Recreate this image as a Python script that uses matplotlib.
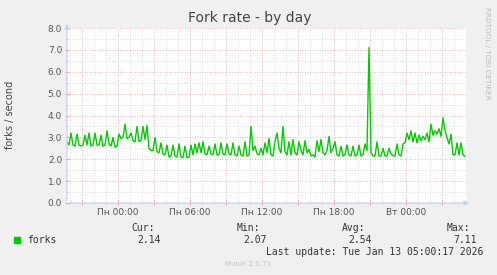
import numpy as np
import pandas as pd
import matplotlib
matplotlib.use("Agg")
import matplotlib.pyplot as plt
import matplotlib.dates as mdates
from matplotlib.ticker import MultipleLocator, FuncFormatter

# forks per second, one sample every 10 minutes
forks = [
    2.8, 2.65, 3.2, 2.65, 2.6, 3.15, 2.65, 2.6, 2.65, 3.1, 2.65, 3.2, 2.6, 2.65, 3.2, 2.65,
    2.65, 3.1, 2.6, 2.65, 3.3, 2.7, 2.6, 3.0, 2.55, 2.6, 3.15, 2.95, 3.0, 3.6, 2.95, 3.0,
    3.2, 2.85, 2.8, 3.5, 2.8, 2.85, 3.5, 2.9, 3.55, 2.5, 2.4, 2.4, 3.0, 2.35, 2.3, 2.75,
    2.25, 2.2, 2.65, 2.1,
    2.15, 2.65, 2.15, 2.1, 2.7, 2.1, 2.07, 2.6, 2.07, 2.1, 2.65, 2.2, 2.7, 2.3, 2.75, 2.3,
    2.8, 2.25, 2.2, 2.6, 2.25, 2.2, 2.7, 2.2, 2.2, 2.75, 2.25, 2.2, 2.7, 2.25, 2.2, 2.75,
    2.2, 2.15, 2.6, 2.2, 2.15, 2.8, 2.15, 2.2, 3.5, 2.4, 2.6, 2.25, 2.2, 2.5, 2.2, 2.75,
    2.3, 2.95,
    2.2, 2.15, 2.8, 3.2, 2.5, 2.3, 3.5, 2.35, 2.2, 2.8, 2.2, 2.9, 2.3, 2.2, 2.8, 2.4,
    2.2, 2.85, 2.3, 2.45, 2.15, 2.2, 2.1, 2.85, 2.35, 2.9, 2.3, 2.2, 2.4, 3.05, 2.3, 2.5,
    2.8, 2.2, 2.15, 2.6, 2.15, 2.2, 2.65, 2.2, 2.15, 2.6, 2.15, 2.2, 2.65, 2.15, 2.2, 2.7,
    2.4, 7.11,
    2.3, 2.15, 2.15, 2.8, 2.15, 2.15, 2.5, 2.15, 2.15, 2.5, 2.25, 2.15, 2.15, 2.7, 2.2, 2.15,
    2.7, 2.75, 3.2, 2.9, 3.3, 2.8, 3.2, 2.75, 3.1, 2.85, 3.05, 2.9, 3.2, 2.8, 3.6, 3.1,
    3.3, 3.15, 3.4, 3.05, 3.9, 3.3, 3.0, 2.7, 3.15, 2.2, 2.2, 2.75, 2.2, 2.75, 2.2, 2.14,
]
times = pd.date_range("2026-01-11 19:45", periods=len(forks), freq="10min")

stat_names = ["Cur:", "Min:", "Avg:", "Max:"]
stat_values = ["2.14", "2.07", "2.54", "7.11"]
day_names = ["Пн", "Вт", "Ср", "Чт", "Пт", "Сб", "Вс"]

bg = "#f0f0f0"
fig = plt.figure(figsize=(4.97, 2.75), dpi=100, facecolor=bg)
W, H = 497.0, 275.0
ax = fig.add_axes([67 / W, 72 / H, 400 / W, 175 / H])
ax.set_facecolor("white")

ax.plot(times, forks, color="#00cc00", lw=1.0, zorder=3)

x0 = pd.Timestamp("2026-01-11 19:45")
x1 = pd.Timestamp("2026-01-13 05:05")
ax.set_xlim(x0, x1)
ax.set_ylim(0, 8)

ax.xaxis.set_major_locator(mdates.HourLocator(byhour=range(0, 24, 3)))
ax.xaxis.set_minor_locator(mdates.HourLocator())

def fmt_time(v, pos):
    d = mdates.num2date(v)
    if d.hour % 6 != 0:
        return ""
    return "%s %02d:%02d" % (day_names[d.weekday()], d.hour, d.minute)

ax.xaxis.set_major_formatter(FuncFormatter(fmt_time))
ax.yaxis.set_major_locator(MultipleLocator(1.0))
ax.yaxis.set_minor_locator(MultipleLocator(0.5))
ax.yaxis.set_major_formatter(FuncFormatter(lambda v, p: "%.1f" % v))

ax.grid(which="minor", color="#d4d4d4", lw=0.6, ls=(0, (1, 2)))
ax.grid(which="major", color="#e6a0a0", lw=0.6, ls=(0, (1, 2)))
ax.set_axisbelow(True)

ax.tick_params(which="both", direction="inout", colors="#555555", labelsize=6.5, pad=2)
ax.tick_params(which="major", length=3, color="#e6a0a0")
ax.tick_params(which="minor", length=2, color="#c8c8c8")
for s in ax.spines.values():
    s.set_visible(False)

axis_col = "#c8d0f4"
ax.annotate("", xy=(0, 1.04), xytext=(0, 0), xycoords="axes fraction",
            arrowprops=dict(arrowstyle="-|>", color=axis_col, lw=0.9, mutation_scale=7))
ax.annotate("", xy=(1.0125, 0), xytext=(0, 0), xycoords="axes fraction",
            arrowprops=dict(arrowstyle="-|>", color=axis_col, lw=0.9, mutation_scale=7))

def ft(x, y, s, **kw):
    fig.text(x / W, 1 - y / H, s, **kw)

ft(250, 18, "Fork rate - by day", ha="center", va="center", fontsize=10, color="#444444")
ft(10, 115, "forks / second", ha="center", va="center", rotation=90, fontsize=7, color="#444444")
ft(487.5, 53, "RRDTOOL / TOBI OETIKER", ha="center", va="center", rotation=270,
   fontsize=5.2, color="#bdbdbd")

mono = dict(family="DejaVu Sans Mono", fontsize=7, color="#333333", va="center")
fig.patches.append(plt.Rectangle((14 / W, 1 - 243 / H), 6 / W, 6 / H,
                                 transform=fig.transFigure, color="#00cc00", figure=fig))
ft(26.7, 240, "forks", ha="left", **mono)
for name, val, xn, xv in zip(stat_names, stat_values, [131.7, 236.7, 342, 446.7], [137, 243, 348, 453]):
    ft(xn, 228.3, name, ha="left", **mono)
    ft(xv, 240, val, ha="left", **mono)
ft(483, 251.7, "Last update: Tue Jan 13 05:00:17 2026", ha="right", **mono)
ft(248, 264, "Munin 2.0.73", ha="center", va="center", fontsize=5, color="#c4c4c4")

fig.savefig("out.png", dpi=100, facecolor=bg)
